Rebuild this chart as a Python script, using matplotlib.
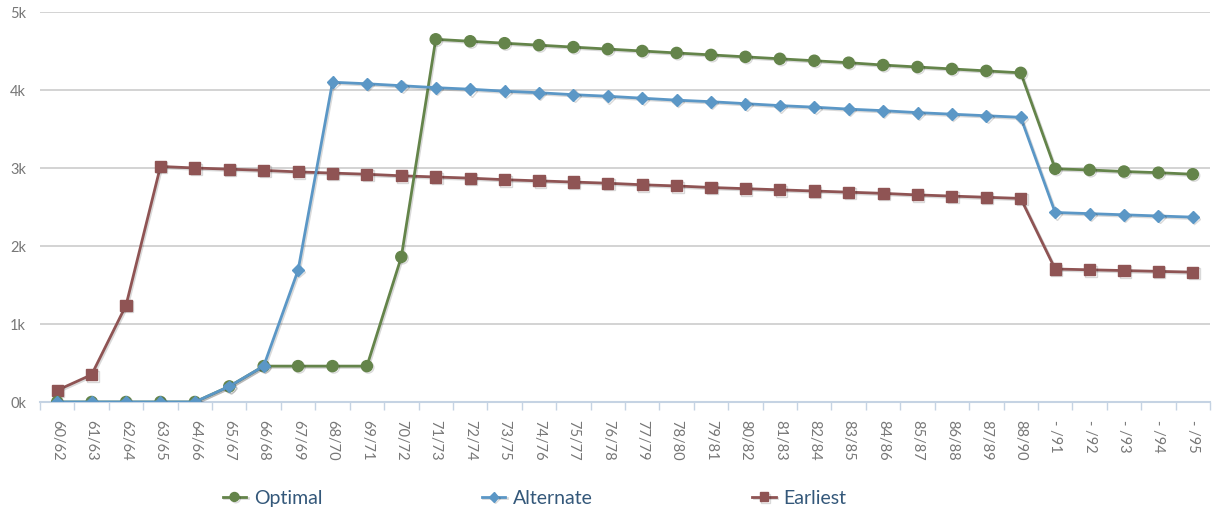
import matplotlib.pyplot as plt
import matplotlib.patheffects as pe
import numpy as np

plt.rcParams['font.family'] = ['Lato', 'DejaVu Sans']

periods = ["60/62", "61/63", "62/64", "63/65", "64/66", "65/67", "66/68", "67/69",
           "68/70", "69/71", "70/72", "71/73", "72/74", "73/75", "74/76", "75/77",
           "76/78", "77/79", "78/80", "79/81", "80/82", "81/83", "82/84", "83/85",
           "84/86", "85/87", "86/88", "87/89", "88/90", "- /91", "- /92", "- /93",
           "- /94", "- /95"]

optimal = [0, 0, 0, 0, 0, 200, 460, 460, 460, 460, 1860, 4650, 4625, 4600, 4575,
           4550, 4525, 4500, 4475, 4450, 4425, 4400, 4375, 4350, 4320, 4295, 4270,
           4245, 4220, 2990, 2975, 2955, 2940, 2920]

alternate = [0, 0, 0, 0, 0, 200, 460, 1690, 4100, 4080, 4055, 4030, 4010, 3985,
             3965, 3940, 3920, 3895, 3870, 3850, 3825, 3800, 3780, 3755, 3735, 3710,
             3690, 3670, 3650, 2430, 2415, 2400, 2385, 2370]

earliest = [150, 350, 1240, 3020, 3000, 2985, 2970, 2950, 2935, 2920, 2900, 2885,
            2870, 2850, 2835, 2820, 2805, 2785, 2770, 2750, 2735, 2720, 2705, 2690,
            2675, 2655, 2640, 2625, 2610, 1705, 1695, 1685, 1675, 1665]

series = [
    ("Optimal", optimal, "#64844a", "o", 8, 3),
    ("Alternate", alternate, "#5b97c6", "D", 6, 4),
    ("Earliest", earliest, "#8f5454", "s", 8, 2),
]

fig = plt.figure(figsize=(12.15, 5.19), dpi=100)
ax = fig.add_axes([40 / 1215, 117 / 519, 1170 / 1215, 390 / 519])

x = np.arange(len(periods))
shadow = [pe.SimpleLineShadow(offset=(1, -1), alpha=0.15), pe.Normal()]
for name, vals, color, marker, ms, z in series:
    ax.plot(x, vals, color=color, lw=2, marker=marker, markersize=ms,
            markeredgecolor=color, label=name, path_effects=shadow, zorder=z)

ax.set_xlim(-0.5, len(periods) - 0.5)
ax.set_ylim(0, 5000)
ax.set_yticks([0, 1000, 2000, 3000, 4000, 5000])
ax.set_yticklabels(["0k", "1k", "2k", "3k", "4k", "5k"], color="#777777", fontsize=10.5)
ax.grid(axis="y", color="#cccccc", lw=1.2)
ax.set_axisbelow(True)

ax.set_xticks(x)
ax.set_xticklabels(periods, rotation=270, color="#777777", fontsize=10.5)
ax.set_xticks(np.arange(len(periods) + 1) - 0.5, minor=True)
ax.tick_params(axis="x", which="major", length=0, pad=13)
ax.tick_params(axis="x", which="minor", length=6, color="#c5d3e3", width=1)
ax.tick_params(axis="y", length=0, pad=10)

for side in ["top", "right", "left"]:
    ax.spines[side].set_visible(False)
ax.spines["bottom"].set_color("#c5d3e3")
ax.spines["bottom"].set_linewidth(1.5)

fig.legend(loc="center", bbox_to_anchor=(0.44, 0.04), ncol=3, frameon=False,
           fontsize=14, labelcolor="#34587a", columnspacing=8.2, handlelength=1.2,
           handletextpad=0.4, markerscale=0.8)

fig.savefig("out.png", dpi=100)
